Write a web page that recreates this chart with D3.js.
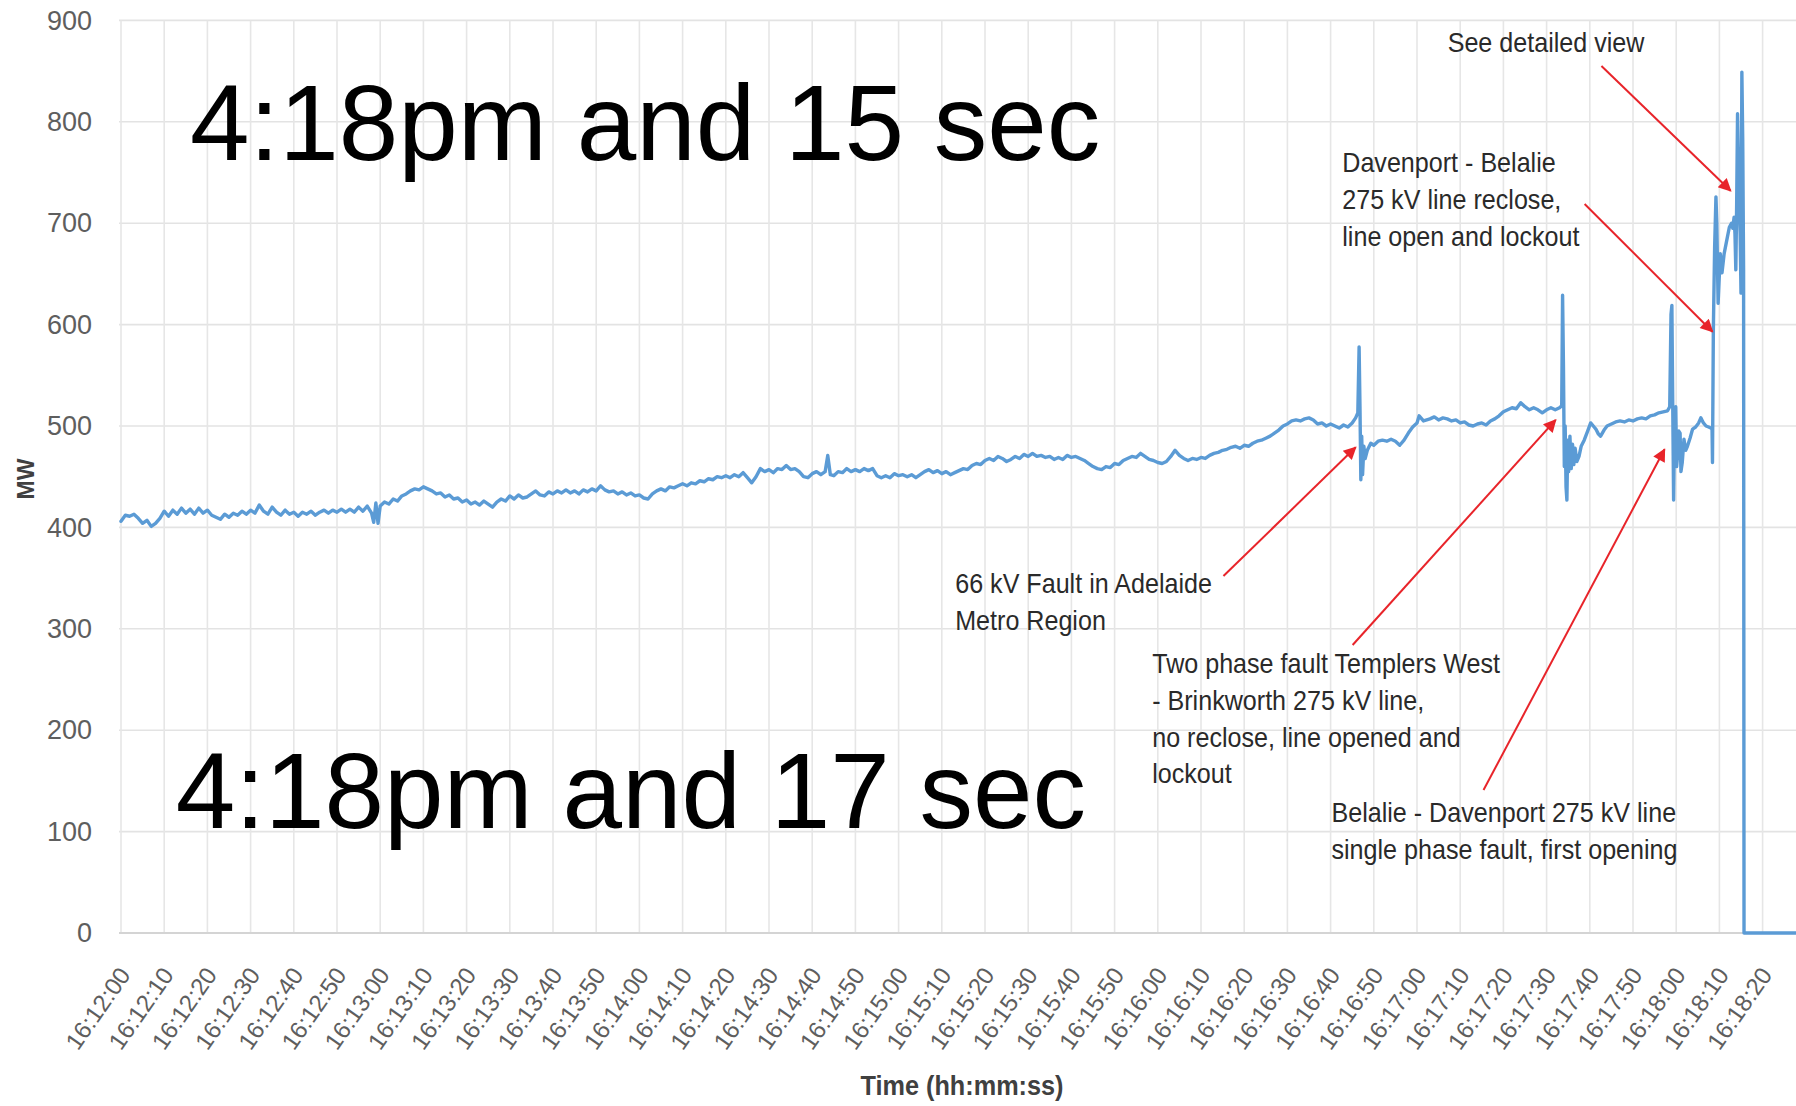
<!DOCTYPE html>
<html><head><meta charset="utf-8">
<script src="https://cdn.jsdelivr.net/npm/d3@7"></script>
<style>
html,body{margin:0;padding:0;background:#fff;}
svg{display:block;}
</style></head>
<body>
<svg id="chart" width="1796" height="1106"></svg>
<script>
// ---- data: seconds after 16:12:00 and MW ----
const timeSeconds = [
0,1,2,3,4,5,6,7,8,9,
10,11,12,13,14,15,16,17,18,19,
20,21,22,23,24,25,26,27,28,29,
30,31,32,33,34,35,36,37,38,39,
40,41,42,43,44,45,46,47,48,49,
50,51,52,53,54,55,56,57,58,58.5,
59,59.5,60,61,62,63,64,65,66,67,
68,69,70,71,72,73,74,75,76,77,
78,79,80,81,82,83,84,85,86,87,
88,89,90,91,92,93,94,95,96,97,
98,99,100,101,102,103,104,105,106,107,
108,109,110,111,112,113,114,115,116,117,
118,119,120,121,122,123,124,125,126,127,
128,129,130,131,132,133,134,135,136,137,
138,139,140,141,142,143,144,145,146,147,
148,149,150,151,152,153,154,155,156,157,
158,159,160,161,162,163,163.6,164.2,165,166,
167,168,169,170,171,172,173,174,175,176,
177,178,179,180,181,182,183,184,185,186,
187,188,189,190,191,192,193,194,195,196,
197,198,199,200,201,202,203,204,205,206,
207,208,209,210,211,212,213,214,215,216,
217,218,219,220,221,222,223,224,225,226,
227,228,229,230,231,232,233,234,235,236,
237,238,239,240,241,242,243,244,245,246,
247,248,249,250,251,252,253,254,255,256,
257,258,259,260,261,262,263,264,265,266,
267,268,269,270,271,272,273,274,275,276,
277,278,279,280,281,282,283,284,285,285.8,
286.3,286.6,286.8,287.0,287.2,287.4,287.7,288.0,288.5,289.3,
290,291,292,293,294,295,296,297,298,299,
300,300.5,301.5,303,304,305,306,307,308,309,
310,311,312,313,314,315,316,317,318,319,
320,321,322,323,324,325,326,327,328,329,
330,331,332,333,333.5,333.7,333.9,334.1,334.3,334.5,
334.7,334.9,335.1,335.4,335.7,336.0,336.3,336.6,337.0,337.5,
338,338.7,339.5,340.2,341,341.4,342,342.5,343.3,344,
345,346,347,348,349,350,351,352,353,354,
355,356,357,358,358.5,358.8,359.0,359.2,359.4,359.6,
359.9,360.1,360.3,360.6,360.9,361.1,361.4,361.8,362.2,362.6,
363.2,363.8,364.5,365.2,365.7,366.3,366.9,367.5,368.0,368.3,
368.4,368.6,368.9,369.2,369.4,369.7,370.0,370.2,370.6,371.1,
371.7,372.3,372.8,373.1,373.4,373.6,373.8,374.0,374.2,374.4,
374.6,374.8,375.0,375.2,375.4,375.6,375.7,388
];
const mwValues = [
406,412,411,413,409,404,407,401,404,409,
416,411,417,413,419,414,418,413,419,414,
417,412,410,408,413,410,414,412,416,413,
417,414,422,416,413,420,415,412,417,413,
415,411,415,413,416,412,415,417,414,417,
415,418,415,418,415,420,416,421,414,405,
424,404,421,425,423,428,426,431,433,436,
438,437,440,438,436,433,434,430,432,428,
429,425,427,423,425,422,426,423,420,425,
428,426,431,428,432,429,430,433,436,432,
431,435,433,436,434,437,434,436,433,437,
435,438,436,441,437,435,436,433,435,432,
434,431,432,429,428,433,436,438,436,440,
439,441,443,441,444,443,446,445,448,447,
450,449,451,449,452,450,454,449,444,450,
458,455,457,454,458,457,461,457,458,455,
450,449,453,455,452,455,471,452,451,455,
454,458,455,457,455,458,456,458,451,449,
451,449,453,451,452,450,452,449,452,455,
457,454,456,453,455,452,454,456,458,457,
461,463,462,466,468,466,470,468,465,467,
470,468,472,470,473,470,471,469,470,467,
469,467,471,469,470,468,466,463,460,458,
457,460,459,463,462,466,468,470,469,473,
470,467,466,464,463,465,470,476,471,468,
466,468,467,469,468,471,473,474,476,477,
479,480,478,481,480,483,485,486,488,490,
493,496,500,502,505,506,505,507,508,506,
502,503,500,502,500,498,501,499,503,508,
513,578,519,447,490,452,480,468,476,483,
481,485,486,485,487,485,481,486,493,499,
503,510,505,507,509,506,508,507,505,506,
503,504,501,500,502,503,501,505,507,510,
514,516,518,517,523,519,516,518,516,513,
516,518,516,518,520,629,560,460,500,440,
427,486,455,490,458,482,462,478,465,470,
480,486,495,503,499,497,492,490,496,500,
502,504,505,504,506,505,507,508,507,510,
511,513,514,515,519,610,619,520,427,500,
519,460,470,495,493,455,464,487,476,480,
488,497,499,503,508,503,500,499,498,497,
464,595,677,726,700,621,650,670,651,670,
683,696,700,695,706,690,654,720,808,760,
716,690,631,849,782,654,0,0
];
const yTickValues = [0,100,200,300,400,500,600,700,800,900];
const timeTickSeconds = [0,10,20,30,40,50,60,70,80,90,100,110,120,130,140,150,160,170,180,190,200,210,220,230,240,250,260,270,280,290,300,310,320,330,340,350,360,370,380];
const timeTickLabels = ["16:12:00","16:12:10","16:12:20","16:12:30","16:12:40","16:12:50","16:13:00","16:13:10","16:13:20","16:13:30","16:13:40","16:13:50","16:14:00","16:14:10","16:14:20","16:14:30","16:14:40","16:14:50","16:15:00","16:15:10","16:15:20","16:15:30","16:15:40","16:15:50","16:16:00","16:16:10","16:16:20","16:16:30","16:16:40","16:16:50","16:17:00","16:17:10","16:17:20","16:17:30","16:17:40","16:17:50","16:18:00","16:18:10","16:18:20"];

// annotation texts and their anchors (seconds, MW)
const annotationLines = [
  ["See detailed view"],
  ["Davenport - Belalie","275 kV line reclose,","line open and lockout"],
  ["66 kV Fault in Adelaide","Metro Region"],
  ["Two phase fault Templers West","- Brinkworth 275 kV line,","no reclose, line opened and","lockout"],
  ["Belalie - Davenport 275 kV line","single phase fault, first opening"]
];
const annotationAt = [[307.1,869],[282.7,750.5],[193.1,335.3],[238.7,256.4],[280.2,109.5]];
const arrowFrom = [[342.7,855],[338.8,719],[255.2,352],[285.1,284],[315.4,141]];
const arrowTo   = [[372.6,732],[368.4,593],[285.8,479],[332.1,506],[357.3,477]];
const captions = ["4:18pm and 15 sec","4:18pm and 17 sec"];
const captionAt = [[16.0,762],[12.7,103.5]];

// ---- drawing ----
const W = 1796, H = 1106;
const svg = d3.select("#chart");
const FONT = "'Liberation Sans', Arial, Helvetica, sans-serif";

const x = d3.scaleLinear().domain([0,380]).range([121,1762.6]);
const y = d3.scaleLinear().domain([0,900]).range([933,20.4]);
const xRight = W;

// grid
const grid = svg.append("g");
grid.selectAll("line.h").data(yTickValues.filter(v=>v>0)).join("line")
  .attr("x1",119).attr("x2",xRight).attr("y1",d=>y(d)).attr("y2",d=>y(d))
  .attr("stroke","#e3e3e3").attr("stroke-width",1.6);
grid.selectAll("line.v").data(timeTickSeconds).join("line")
  .attr("x1",d=>x(d)).attr("x2",d=>x(d)).attr("y1",y(900)).attr("y2",y(0))
  .attr("stroke","#e6e6e6").attr("stroke-width",1.6);
grid.append("line").attr("x1",119).attr("x2",xRight).attr("y1",y(0)).attr("y2",y(0))
  .attr("stroke","#d4d4d4").attr("stroke-width",2.2);

// y axis
const yAxis = svg.append("g").attr("transform",`translate(${x(0)},0)`)
  .call(d3.axisLeft(y).tickValues(yTickValues).tickSize(0).tickPadding(29));
yAxis.select(".domain").remove();
yAxis.selectAll("text").attr("font-family",FONT).attr("font-size",27).attr("fill","#5e5e5e");

// x axis
const xAxis = svg.append("g").attr("transform",`translate(0,${y(0)})`)
  .call(d3.axisBottom(x).tickValues(timeTickSeconds).tickSize(0)
        .tickFormat((d,i)=>timeTickLabels[i]));
xAxis.select(".domain").remove();
xAxis.selectAll("text")
  .attr("x",0).attr("y",0).attr("dy",null)
  .attr("text-anchor","end")
  .attr("transform","translate(10,42) rotate(-55)")
  .attr("font-family",FONT).attr("font-size",24).attr("fill","#5e5e5e");

// axis titles
svg.append("text").attr("x",962).attr("y",1095).attr("text-anchor","middle")
  .attr("font-family",FONT).attr("font-weight","bold").attr("font-size",27)
  .attr("fill","#404040").attr("textLength",203).attr("lengthAdjust","spacingAndGlyphs")
  .text("Time (hh:mm:ss)");
svg.append("text").attr("transform","translate(34,479) rotate(-90)").attr("text-anchor","middle")
  .attr("font-family",FONT).attr("font-weight","bold").attr("font-size",23)
  .attr("fill","#404040").text("MW");

// series
const series = timeSeconds.map((t,i)=>({t, v: mwValues[i]}));
const line = d3.line().x(d=>x(d.t)).y(d=>y(d.v));
svg.append("path").datum(series).attr("d",line)
  .attr("fill","none").attr("stroke","#5b9bd5").attr("stroke-width",3.4)
  .attr("stroke-linejoin","round").attr("stroke-linecap","round");

// arrows
const defs = svg.append("defs");
defs.append("marker").attr("id","ah").attr("viewBox","0 0 10 10")
  .attr("refX",9).attr("refY",5).attr("markerWidth",17).attr("markerHeight",13)
  .attr("markerUnits","userSpaceOnUse").attr("orient","auto")
  .append("path").attr("d","M0,0 L10,5 L0,10 z").attr("fill","#e8242a");

svg.append("g").selectAll("line").data(arrowFrom).join("line")
  .attr("x1",d=>x(d[0])).attr("y1",d=>y(d[1]))
  .attr("x2",(d,i)=>x(arrowTo[i][0])).attr("y2",(d,i)=>y(arrowTo[i][1]))
  .attr("stroke","#e8242a").attr("stroke-width",2).attr("marker-end","url(#ah)");

// annotation texts (slightly condensed like the source)
const ann = svg.append("g");
annotationLines.forEach((lines,i)=>{
  const g = ann.append("g")
    .attr("transform",`translate(${x(annotationAt[i][0])},${y(annotationAt[i][1])}) scale(0.93,1)`);
  const t = g.append("text").attr("font-family",FONT).attr("font-size",27).attr("fill","#2a2a2a");
  lines.forEach((s,j)=>{
    t.append("tspan").attr("x",0).attr("y",j*36.8).text(s);
  });
});

// big captions
captions.forEach((c,i)=>{
  svg.append("text").attr("x",x(captionAt[i][0])).attr("y",y(captionAt[i][1]))
    .attr("font-family",FONT).attr("font-size",107).attr("fill","#000").text(c);
});
</script>
</body></html>
